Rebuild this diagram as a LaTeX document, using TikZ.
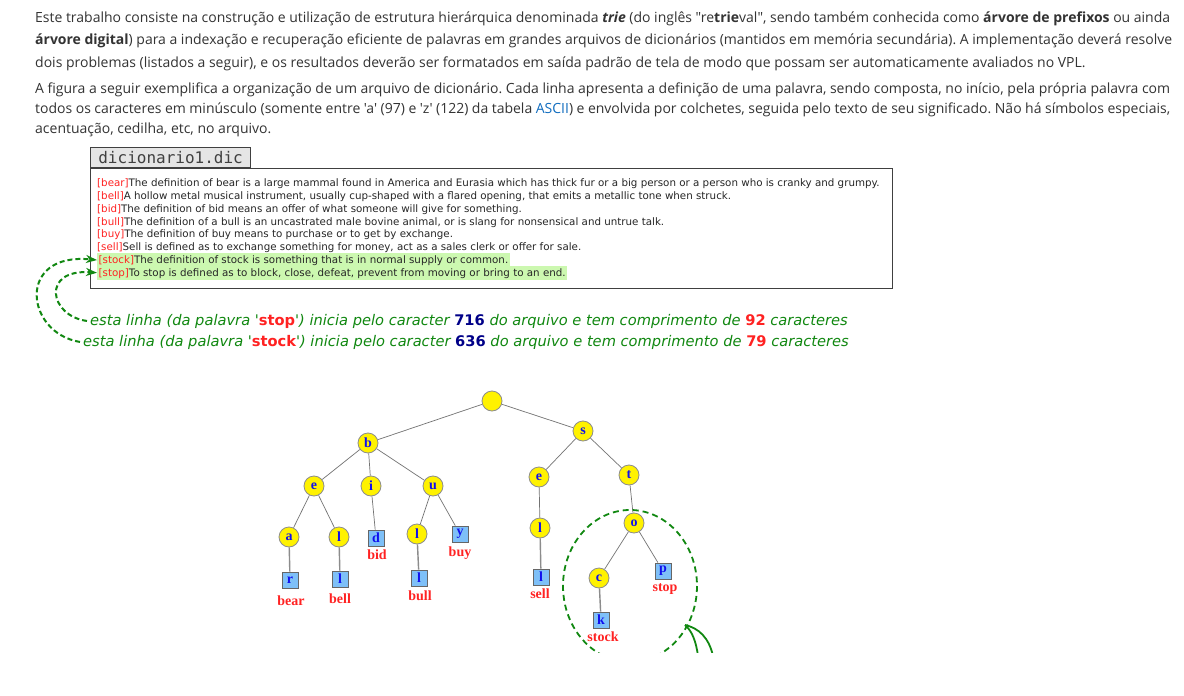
\documentclass[tikz,border=0pt]{standalone}
\usepackage{fontspec}
\newfontfamily\os{Open Sans}
\newfontfamily\dv{DejaVu Sans}
\newfontfamily\dvm{DejaVu Sans Mono}
\newfontfamily\tms{Liberation Serif}
\usetikzlibrary{arrows.meta}
\definecolor{txt}{HTML}{333333}
\definecolor{lnk}{HTML}{0F6CBF}
\definecolor{grn}{HTML}{118811}
\definecolor{hl}{HTML}{CCF8B0}
\definecolor{wred}{HTML}{FF2222}
\definecolor{nblue}{HTML}{000088}
\definecolor{sq}{HTML}{7EC0F8}
\definecolor{lblue}{HTML}{1010EE}
\frenchspacing
\tikzset{
  para/.style={inner sep=0pt, anchor=base west, font=\os\fontsize{14}{16}\selectfont\frenchspacing, text=txt},
  boxt/.style={inner sep=0pt, anchor=base west, font=\dv\fontsize{10.3}{11}\selectfont\frenchspacing, text=black!85},
  hlt/.style={boxt, fill=hl, inner xsep=1.5pt, inner ysep=0.5pt, text height=9.5pt, text depth=3pt},
  gtxt/.style={inner sep=0pt, anchor=base west, font=\dv\itshape\fontsize{14.65}{16}\selectfont, text=grn},
  garrow/.style={draw=grn, line width=2pt, dash pattern=on 5pt off 3pt, -{Stealth[length=11pt,width=8pt]}},
  inode/.style={circle, draw=black!45, fill=yellow, line width=0.8pt, minimum size=20pt, inner sep=0pt, font=\tms\bfseries\fontsize{14}{14}\selectfont, text=lblue},
  leaf/.style={rectangle, draw=black!60, fill=sq, line width=0.8pt, minimum size=16pt, inner sep=0pt, font=\tms\bfseries\fontsize{14}{14}\selectfont, text=lblue},
  wlab/.style={inner sep=0pt, font=\tms\bfseries\fontsize{14}{14}\selectfont, text=wred},
  edge/.style={draw=black!55, line width=0.7pt},
  sedge/.style={draw=black!45, line width=1.4pt}
}
\begin{document}
\begin{tikzpicture}[x=1pt,y=-1pt]
\path[use as bounding box, fill=white] (0,0) rectangle (1184,696);
% paragraphs
\node[para] (p1) at (35,23) {\makebox[1135pt][s]{Este trabalho consiste na construção e utilização de estrutura hierárquica denominada \textbf{\textit{trie}} (do inglês "re\textbf{trie}val", sendo também conhecida como \textbf{árvore de prefixos} ou ainda}};
\node[para] (p2) at (35,45) {\makebox[1137pt][s]{\textbf{árvore digital}) para a indexação e recuperação eficiente de palavras em grandes arquivos de dicionários (mantidos em memória secundária). A implementação deverá resolve}};
\node[para] (p3) at (35,67) {dois problemas (listados a seguir), e os resultados deverão ser formatados em saída padrão de tela de modo que possam ser automaticamente avaliados no VPL.};
\node[para] (q1) at (35,93) {\makebox[1135pt][s]{A figura a seguir exemplifica a organização de um arquivo de dicionário. Cada linha apresenta a definição de uma palavra, sendo composta, no início, pela própria palavra com}};
\node[para] (q2) at (35,113) {\makebox[1135pt][s]{todos os caracteres em minúsculo (somente entre 'a' (97) e 'z' (122) da tabela \textcolor{lnk}{ASCII}) e envolvida por colchetes, seguida pelo texto de seu significado. Não há símbolos especiais,}};
\node[para] (q3) at (35,133) {acentuação, cedilha, etc, no arquivo.};
% file box
\node[draw=black!75, line width=1.2pt, minimum width=802pt, minimum height=120pt, anchor=north west, inner sep=0pt] (box) at (90,168) {};
\node[draw=black!75, fill=black!10, line width=1.2pt, minimum width=160pt, minimum height=20pt, anchor=south west, inner sep=0pt, font=\dvm\fontsize{16}{16}\selectfont, text=black!75] (tab) at (90,168) {dicionario1.dic};
\node[boxt] (l1) at (97,186) {\textcolor{wred}{[bear]}The definition of bear is a large mammal found in America and Eurasia which has thick fur or a big person or a person who is cranky and grumpy.};
\node[boxt] (l2) at (97,199) {\textcolor{wred}{[bell]}A hollow metal musical instrument, usually cup-shaped with a flared opening, that emits a metallic tone when struck.};
\node[boxt] (l3) at (97,212) {\textcolor{wred}{[bid]}The definition of bid means an offer of what someone will give for something.};
\node[boxt] (l4) at (97,225) {\textcolor{wred}{[bull]}The definition of a bull is an uncastrated male bovine animal, or is slang for nonsensical and untrue talk.};
\node[boxt] (l5) at (97,237.5) {\textcolor{wred}{[buy]}The definition of buy means to purchase or to get by exchange.};
\node[boxt] (l6) at (97,250.5) {\textcolor{wred}{[sell]}Sell is defined as to exchange something for money, act as a sales clerk or offer for sale.};
\node[hlt] (l7) at (97,263.3) {\textcolor{wred}{[stock]}The definition of stock is something that is in normal supply or common.};
\node[hlt] (l8) at (97,276) {\textcolor{wred}{[stop]}To stop is defined as to block, close, defeat, prevent from moving or bring to an end.};
% green notes
\node[gtxt] (g1) at (90,325) {esta linha (da palavra '\textcolor{wred}{\upshape\bfseries stop}') inicia pelo caracter \textcolor{nblue}{\upshape\bfseries 716} do arquivo e tem comprimento de \textcolor{wred}{\upshape\bfseries 92} caracteres};
\node[gtxt] (g2) at (83,346) {esta linha (da palavra '\textcolor{wred}{\upshape\bfseries stock}') inicia pelo caracter \textcolor{nblue}{\upshape\bfseries 636} do arquivo e tem comprimento de \textcolor{wred}{\upshape\bfseries 79} caracteres};
\draw[garrow] ([xshift=-3pt]g2.west) .. controls +(-55,-9) and +(-81,-8) .. (l7.west);
\draw[garrow] ([xshift=-3pt]g1.west) .. controls +(-38,-5) and +(-56,-4) .. (l8.west);
% trie
\node[inode] (root) at (492,401) {};
\node[inode] (b) at (368,443) {b};
\node[inode] (s) at (583,431) {s};
\node[inode] (be) at (314,486) {e};
\node[inode] (bi) at (371,486) {i};
\node[inode] (bu) at (433,486) {u};
\node[inode] (se) at (539,477) {e};
\node[inode] (st) at (629,475) {t};
\node[inode] (bea) at (289,537) {a};
\node[inode] (bel) at (339,537) {l};
\node[leaf] (bid) at (376,538) {d};
\node[inode] (bul) at (417,534) {l};
\node[leaf] (buy) at (460,534) {y};
\node[inode] (sel) at (540,528) {l};
\node[inode] (sto) at (634,523) {o};
\node[leaf] (bear) at (290,580) {r};
\node[leaf] (bell) at (340,579) {l};
\node[leaf] (bull) at (419,578) {l};
\node[leaf] (sell) at (541,577) {l};
\node[inode] (stoc) at (599,578) {c};
\node[leaf] (stop) at (663,571) {p};
\node[leaf] (stock) at (601,620) {k};
\node[wlab] (tbid) at (377,555) {bid};
\node[wlab] (tbuy) at (460,553) {buy};
\node[wlab] (tbear) at (291,601) {bear};
\node[wlab] (tbell) at (340,599) {bell};
\node[wlab] (tbull) at (420,596) {bull};
\node[wlab] (tsell) at (540,594) {sell};
\node[wlab] (tstop) at (665,589) {stop};
\node[wlab] (tstock) at (603,637) {stock};
\path[edge] (root) -- (b);
\path[edge] (root) -- (s);
\path[edge] (b) -- (be);
\path[edge] (b) -- (bi);
\path[edge] (b) -- (bu);
\path[edge] (s) -- (se);
\path[edge] (s) -- (st);
\path[edge] (be) -- (bea);
\path[edge] (be) -- (bel);
\path[edge] (bi) -- (bid);
\path[edge] (bu) -- (bul);
\path[edge] (bu) -- (buy);
\path[edge] (se) -- (sel);
\path[edge] (st) -- (sto);
\path[edge] (sto) -- (stoc);
\path[edge] (sto) -- (stop);
\path[sedge] (bea) -- (bear);
\path[sedge] (bel) -- (bell);
\path[sedge] (bul) -- (bull);
\path[sedge] (sel) -- (sell);
\path[sedge] (stoc) -- (stock);
% highlight ellipse and pointer
\coordinate (etip) at (685,625);
\coordinate (ca) at (698,656);
\coordinate (cb) at (713,656);
\begin{scope}
\clip (0,0) rectangle (1184,652);
\draw[draw=grn, line width=1.8pt, dash pattern=on 6pt off 4pt] (630,586) ellipse [x radius=67, y radius=76];
\draw[draw=grn, line width=1.8pt] (ca) .. controls (696,641) and (692,631) .. (etip);
\draw[draw=grn, line width=1.8pt] (cb) .. controls (709,638) and (699,628) .. (etip);
\end{scope}
\end{tikzpicture}
\end{document}
